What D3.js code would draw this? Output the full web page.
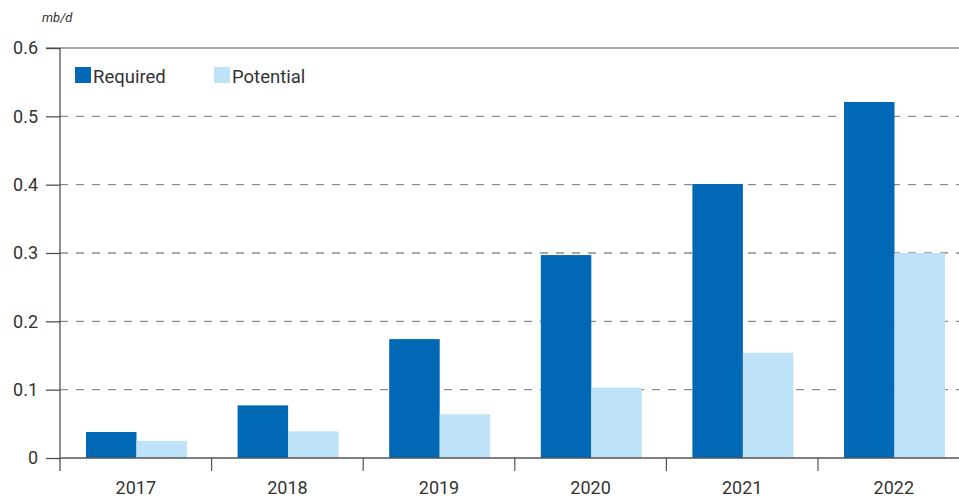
<!DOCTYPE html>
<html><head><meta charset="utf-8">
<script src="https://cdn.jsdelivr.net/npm/d3@7"></script>
<style>body{margin:0;background:#fff}svg{display:block}text{font-family:Roboto,"DejaVu Sans",sans-serif;fill:#333}</style>
</head><body><svg id="c" width="959" height="497"></svg>
<script>
const categories = ["2017","2018","2019","2020","2021","2022"];
const required = [0.038,0.077,0.174,0.297,0.401,0.521];
const potential = [0.025,0.039,0.064,0.103,0.154,0.300];
const yTicks = [0,0.1,0.2,0.3,0.4,0.5,0.6];
const seriesNames = ["Required","Potential"];
const colors = ["#0068b4","#bee3f8"];

const svg = d3.select("#c");
const x0 = 60, xEnd = 60 + 6*151.6;
const y = d3.scaleLinear().domain([0,0.6]).range([458,48]);
const x = d3.scaleBand().domain(categories).range([x0,xEnd]).paddingInner(0).paddingOuter(0);

// grid lines
svg.append("g").selectAll("line").data(yTicks.filter(d=>d>0 && d<0.6)).join("line")
  .attr("x1",x0).attr("x2",959).attr("y1",d=>y(d)).attr("y2",d=>y(d))
  .attr("stroke","#8a8a8a").attr("stroke-width",1.3).attr("stroke-dasharray","8,8");
// top solid line
svg.append("line").attr("x1",46).attr("x2",959).attr("y1",y(0.6)).attr("y2",y(0.6)).attr("stroke","#555").attr("stroke-width",1.2);

// bars
const data = categories.map((c,i)=>({c, vals:[required[i],potential[i]]}));
const bw = 50.5;
const g = svg.append("g");
data.forEach(d=>{
  d.vals.forEach((v,j)=>{
    g.append("rect").attr("x",x(d.c)+26+j*bw).attr("width",bw)
      .attr("y",y(v)).attr("height",y(0)-y(v)).attr("fill",colors[j]);
  });
});

// y axis
const yAxis = d3.axisLeft(y).tickValues(yTicks).tickSize(14).tickPadding(8)
  .tickFormat(d=> d===0 ? "0" : d3.format(".1f")(d));
const ya = svg.append("g").attr("transform",`translate(${x0},0)`).call(yAxis);
ya.select(".domain").remove();
ya.selectAll(".tick line").attr("stroke","#444").attr("stroke-width",1.2);
ya.selectAll("text").attr("font-size",18).style("fill","#333").attr("font-family","Roboto");
svg.append("line").attr("x1",x0).attr("x2",x0).attr("y1",y(0.6)).attr("y2",471).attr("stroke","#444").attr("stroke-width",1.2);

// x axis
svg.append("line").attr("x1",x0).attr("x2",959).attr("y1",y(0)).attr("y2",y(0)).attr("stroke","#555").attr("stroke-width",1.3);
svg.append("g").selectAll("line").data(categories.slice(1)).join("line")
  .attr("x1",d=>x(d)).attr("x2",d=>x(d)).attr("y1",y(0)).attr("y2",471).attr("stroke","#555").attr("stroke-width",1.2);
svg.append("g").selectAll("text").data(categories).join("text")
  .attr("x",d=>x(d)+x.bandwidth()/2).attr("y",494).attr("text-anchor","middle")
  .attr("font-size",18).text(d=>d);

// unit label
svg.append("text").attr("x",42).attr("y",22).attr("font-size",13).attr("font-style","italic").text("mb/d");

// legend
const lx = [75,214];
seriesNames.forEach((n,i)=>{
  svg.append("rect").attr("x",lx[i]).attr("y",67).attr("width",16).attr("height",16).attr("fill",colors[i]);
  svg.append("text").attr("x",lx[i]+18).attr("y",83).attr("font-size",18.5).text(n);
});
</script></body></html>
